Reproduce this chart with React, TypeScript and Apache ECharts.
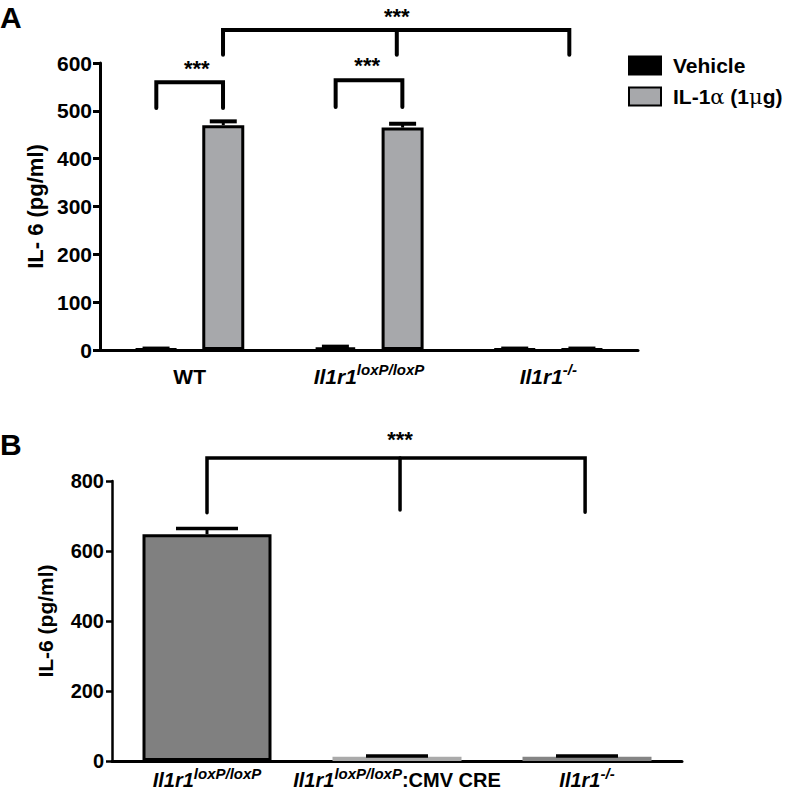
import React, { useEffect, useRef } from 'react';
import * as echarts from 'echarts';

// ---------- Data ----------
const categoriesA = ['WT', 'Il1r1^loxP/loxP', 'Il1r1^-/-'];
const vehicleA = [2, 5, 2];
const vehicleErrA = [1, 2, 1];
const il1aA = [470, 465, 2];
const il1aErrA = [8, 8, 1];
const seriesNamesA = ['Vehicle', 'IL-1α (1μg)'];

const categoriesB = ['Il1r1^loxP/loxP', 'Il1r1^loxP/loxP:CMV CRE', 'Il1r1^-/-'];
const valuesB = [648, 12, 12];
const errB = [16, 2, 2];

// significance brackets: legs in category units, heights in data units
const sigA = [
  { legs: [-0.186, 0.186], top: 560, bottoms: [506, 506], labelX: 0.04, labelY: 598, label: '***' },
  { legs: [0.814, 1.186], top: 564, bottoms: [508, 508], labelX: 0.99, labelY: 604, label: '***' },
  { legs: [0.186, 1.155, 2.117], top: 669, bottoms: [617, 617, 617], labelX: 1.155, labelY: 707, label: '***' },
];
const sigB = [
  { legs: [0, 1.016, 1.99], top: 866, bottoms: [709, 717, 711], labelX: 1.016, labelY: 931, label: '***' },
];

const FONT = '"Liberation Sans", Arial, Helvetica, sans-serif';

const BAR_W_A = 42;
const BAR_GAP_A = 0.6;
const BAR_OFF_A = (BAR_W_A * (1 + BAR_GAP_A)) / 2;

const richLabel = (size: number, supSize: number) => ({
  n: { fontFamily: FONT, fontWeight: 'bold', fontSize: size, color: '#000', lineHeight: size + 4, verticalAlign: 'bottom' },
  i: { fontFamily: FONT, fontWeight: 'bold', fontStyle: 'italic', fontSize: size, color: '#000', lineHeight: size + 4, verticalAlign: 'bottom' },
  s: { fontFamily: FONT, fontWeight: 'bold', fontStyle: 'italic', fontSize: supSize, color: '#000', lineHeight: supSize, verticalAlign: 'top' },
});

const fmtLabel = (v: string) => {
  const [base, rest] = v.split('^');
  if (rest === undefined) return `{n|${base}}`;
  const [sup, suf] = rest.split(':');
  return `{i|${base}}{s|${sup}}` + (suf ? `{n|:${suf}}` : '');
};

// category-axis coordinate with fractional offset inside a band
function catCoord(api: any, x: number, y: number) {
  const idx = Math.round(x);
  const frac = x - idx;
  const p = api.coord([idx, y]);
  const band = api.size([1, 0])[0];
  return [p[0] + frac * band, p[1]];
}

function bracketRenderer(list: any[], lw: number, starSize: number) {
  return (params: any, api: any) => {
    const b = list[params.dataIndex];
    const y0 = catCoord(api, b.legs[0], b.top)[1];
    const lastIdx = b.legs.length - 1;
    const first = catCoord(api, b.legs[0], b.bottoms[0]);
    const last = catCoord(api, b.legs[lastIdx], b.bottoms[lastIdx]);
    const children: any[] = [
      {
        type: 'polyline',
        shape: { points: [[first[0], first[1]], [first[0], y0], [last[0], y0], [last[0], last[1]]] },
        style: { stroke: '#000', lineWidth: lw, fill: null, lineJoin: 'miter', lineCap: 'round' },
      },
    ];
    for (let i = 1; i < lastIdx; i++) {
      const p = catCoord(api, b.legs[i], b.bottoms[i]);
      children.push({
        type: 'line',
        shape: { x1: p[0], y1: y0, x2: p[0], y2: p[1] },
        style: { stroke: '#000', lineWidth: lw, lineCap: 'round' },
      });
    }
    const m = catCoord(api, b.labelX, b.labelY);
    children.push({
      type: 'text',
      x: m[0],
      y: m[1] + starSize * 0.22,
      style: { text: b.label, fontFamily: FONT, fontSize: starSize, fontWeight: 'bold', fill: '#000', align: 'center', verticalAlign: 'middle' },
    });
    return { type: 'group', children };
  };
}

function errRenderer(offset: number, capW: number, lw: number, capLw: number) {
  return (params: any, api: any) => {
    const x = api.value(0);
    const v = api.value(1);
    const e = api.value(2);
    const p0 = api.coord([x, v]);
    const p1 = api.coord([x, v + e]);
    const cx = p0[0] + offset;
    return {
      type: 'group',
      children: [
        { type: 'line', shape: { x1: cx, y1: p0[1], x2: cx, y2: p1[1] }, style: { stroke: '#000', lineWidth: lw } },
        { type: 'line', shape: { x1: cx - capW / 2, y1: p1[1], x2: cx + capW / 2, y2: p1[1] }, style: { stroke: '#000', lineWidth: capLw } },
      ],
    };
  };
}

export default function App() {
  const ref = useRef<HTMLDivElement>(null);
  useEffect(() => {
    if (!ref.current) return;
    const chart = echarts.init(ref.current, undefined, { renderer: 'svg' });
    const option: any = {
      animation: false,
      backgroundColor: '#fff',
      textStyle: { fontFamily: FONT },
      graphic: [
        { type: 'text', left: 0, top: 2, style: { text: 'A', fontFamily: FONT, fontSize: 30, fontWeight: 'bold', fill: '#000' } },
        { type: 'text', left: 0, top: 429, style: { text: 'B', fontFamily: FONT, fontSize: 30, fontWeight: 'bold', fill: '#000' } },
      ],
      legend: {
        left: 623,
        top: 50,
        orient: 'vertical',
        icon: 'rect',
        itemWidth: 32,
        itemHeight: 18,
        itemGap: 10,
        selectedMode: false,
        data: seriesNamesA,
        formatter: (name: string) => {
          if (name === seriesNamesA[0]) return `{a|${name}}`;
          return '{a|IL-1}{g|α}{a| (1}{g|μ}{a|g)}';
        },
        textStyle: {
          padding: [0, 0, 0, 7],
          rich: {
            a: { fontFamily: FONT, fontSize: 21, fontWeight: 'bold', color: '#000' },
            g: { fontFamily: '"DejaVu Serif", "Liberation Serif", serif', fontSize: 21, color: '#000' },
          },
        },
      },
      grid: [
        { left: 100, top: 63, width: 538, height: 287 },
        { left: 112, top: 481, width: 570, height: 280 },
      ],
      xAxis: [
        {
          type: 'category',
          gridIndex: 0,
          data: categoriesA,
          axisLine: { lineStyle: { color: '#000', width: 3 } },
          axisTick: { alignWithLabel: true, length: 8, lineStyle: { color: '#000', width: 3 } },
          axisLabel: { interval: 0, margin: 12, formatter: fmtLabel, rich: richLabel(21, 15) },
        },
        {
          type: 'category',
          gridIndex: 1,
          data: categoriesB,
          axisLine: { lineStyle: { color: '#000', width: 3 } },
          axisTick: { alignWithLabel: true, length: 7, lineStyle: { color: '#000', width: 3 } },
          axisLabel: { interval: 0, hideOverlap: false, margin: 5, formatter: fmtLabel, rich: richLabel(20, 15) },
        },
      ],
      yAxis: [
        {
          type: 'value',
          gridIndex: 0,
          min: 0,
          max: 600,
          interval: 100,
          name: 'IL- 6 (pg/ml)',
          nameLocation: 'middle',
          nameGap: 52,
          nameTextStyle: { fontFamily: FONT, fontSize: 22, fontWeight: 'bold', color: '#000' },
          axisLine: { show: true, lineStyle: { color: '#000', width: 3 } },
          axisTick: { show: true, length: 7, lineStyle: { color: '#000', width: 3 } },
          axisLabel: { margin: 8, fontFamily: FONT, fontSize: 21, fontWeight: 'bold', color: '#000' },
          splitLine: { show: false },
        },
        {
          type: 'value',
          gridIndex: 1,
          min: 0,
          max: 800,
          interval: 200,
          name: 'IL-6 (pg/ml)',
          nameLocation: 'middle',
          nameGap: 56,
          nameTextStyle: { fontFamily: FONT, fontSize: 21, fontWeight: 'bold', color: '#000' },
          axisLine: { show: true, lineStyle: { color: '#000', width: 2.5 } },
          axisTick: { show: true, length: 6, lineStyle: { color: '#000', width: 2.5 } },
          axisLabel: { margin: 8, fontFamily: FONT, fontSize: 20, fontWeight: 'bold', color: '#000' },
          splitLine: { show: false },
        },
      ],
      series: [
        {
          type: 'bar',
          name: seriesNamesA[0],
          xAxisIndex: 0,
          yAxisIndex: 0,
          data: vehicleA,
          barWidth: BAR_W_A,
          barGap: `${BAR_GAP_A * 100}%`,
          itemStyle: { color: '#000', borderColor: '#000', borderWidth: 3 },
        },
        {
          type: 'bar',
          name: seriesNamesA[1],
          xAxisIndex: 0,
          yAxisIndex: 0,
          data: il1aA,
          barWidth: BAR_W_A,
          barGap: `${BAR_GAP_A * 100}%`,
          itemStyle: { color: '#a7a8ab', borderColor: '#000', borderWidth: 3 },
        },
        {
          type: 'custom',
          xAxisIndex: 0,
          yAxisIndex: 0,
          data: vehicleA.map((v, i) => [i, v, vehicleErrA[i]]),
          renderItem: errRenderer(-BAR_OFF_A, 27, 3, 4),
          z: 5,
          silent: true,
        },
        {
          type: 'custom',
          xAxisIndex: 0,
          yAxisIndex: 0,
          data: il1aA.map((v, i) => [i, v, il1aErrA[i]]),
          renderItem: errRenderer(BAR_OFF_A, 27, 3, 4),
          z: 5,
          silent: true,
        },
        {
          type: 'custom',
          xAxisIndex: 0,
          yAxisIndex: 0,
          clip: false,
          data: sigA.map((b) => [Math.round(b.labelX), b.top]),
          renderItem: bracketRenderer(sigA, 4, 22),
          silent: true,
        },
        {
          type: 'bar',
          name: 'B',
          xAxisIndex: 1,
          yAxisIndex: 1,
          barWidth: 129,
          data: valuesB.map((v, i) => ({
            value: v,
            itemStyle:
              i === 0
                ? { color: '#808080', borderColor: '#000', borderWidth: 3 }
                : { color: i === 1 ? '#aaaaaa' : '#858585', borderWidth: 0 },
          })),
        },
        {
          type: 'custom',
          xAxisIndex: 1,
          yAxisIndex: 1,
          data: valuesB.map((v, i) => [i, v, errB[i]]),
          renderItem: errRenderer(0, 62, 3, 3.5),
          z: 5,
          silent: true,
        },
        {
          type: 'custom',
          xAxisIndex: 1,
          yAxisIndex: 1,
          clip: false,
          data: sigB.map((b) => [Math.round(b.labelX), b.top]),
          renderItem: bracketRenderer(sigB, 3.5, 22),
          silent: true,
        },
      ],
    };
    chart.setOption(option);
    return () => chart.dispose();
  }, []);
  return <div ref={ref} style={{ position: 'fixed', left: 0, top: 0, width: 786, height: 791, background: '#fff' }} />;
}
